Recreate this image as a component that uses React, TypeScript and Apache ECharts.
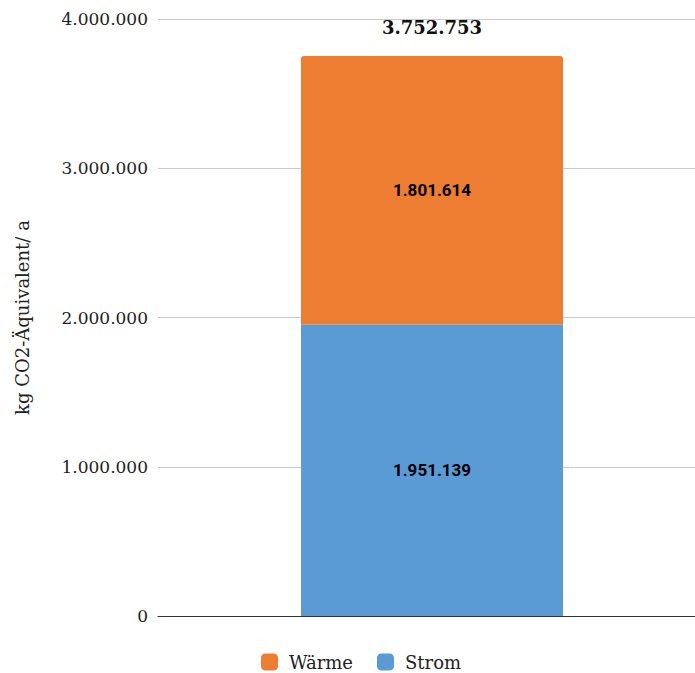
import React, { useEffect, useRef } from "react";
import * as echarts from "echarts";

const categories = ["Gesamt"];
const stromValues = [1951139];
const waermeValues = [1801614];
const yTicks = [0, 1000000, 2000000, 3000000, 4000000];

const fmt = (v: number) => String(Math.round(v)).replace(/\B(?=(\d{3})+(?!\d))/g, ".");

export default function App() {
  const ref = useRef<HTMLDivElement>(null);
  useEffect(() => {
    if (!ref.current) return;
    const chart = echarts.init(ref.current, null, { renderer: "svg" });
    const totals = stromValues.map((v, i) => v + waermeValues[i]);
    const serif = "DejaVu Serif";
    const yMin = yTicks[0];
    const yMax = yTicks[yTicks.length - 1];
    const barLabel = {
      show: true,
      position: "inside",
      formatter: (p: any) => fmt(p.value),
      fontFamily: "Roboto",
      fontWeight: "bold",
      fontSize: 17,
      color: "#000",
    };
    chart.setOption({
      animation: false,
      textStyle: { fontFamily: serif },
      grid: [
        { left: 158, right: 0, top: 19, bottom: 57, containLabel: false },
        { left: 169, right: 0, top: 19, bottom: 57, containLabel: false },
      ],
      legend: {
        data: ["Wärme", "Strom"],
        top: 653,
        left: 261,
        padding: 0,
        itemWidth: 17,
        itemHeight: 17,
        itemGap: 24,
        icon: "roundRect",
        textStyle: { fontFamily: serif, fontSize: 18, color: "#222", padding: [0, 0, 0, 6] },
      },
      xAxis: [
        {
          gridIndex: 0,
          type: "category",
          data: categories,
          axisLabel: { show: false },
          axisTick: { show: false },
          axisLine: { lineStyle: { color: "#333", width: 1 } },
        },
        {
          gridIndex: 1,
          type: "category",
          data: categories,
          show: false,
        },
      ],
      yAxis: [
        {
          gridIndex: 0,
          type: "value",
          min: yMin,
          max: yMax,
          interval: 1000000,
          name: "kg CO2-Äquivalent/ a",
          nameLocation: "middle",
          nameGap: 127,
          nameTextStyle: { fontFamily: serif, fontSize: 18, color: "#222" },
          axisLabel: { formatter: (v: number) => fmt(v), fontFamily: serif, fontSize: 17, color: "#222", margin: 10 },
          splitLine: { lineStyle: { color: "#c8c8c8", width: 1 } },
          axisLine: { show: false },
          axisTick: { show: false },
        },
        {
          gridIndex: 1,
          type: "value",
          min: yMin,
          max: yMax,
          interval: 1000000,
          show: false,
          splitLine: { show: false },
        },
      ],
      series: [
        {
          name: "Strom",
          type: "bar",
          stack: "s",
          xAxisIndex: 1,
          yAxisIndex: 1,
          data: stromValues,
          barWidth: 262,
          itemStyle: { color: "#5B9BD5" },
          label: barLabel,
        },
        {
          name: "Wärme",
          type: "bar",
          stack: "s",
          xAxisIndex: 1,
          yAxisIndex: 1,
          data: waermeValues,
          barWidth: 262,
          itemStyle: { color: "#ED7D31", borderRadius: [3, 3, 0, 0] },
          label: barLabel,
        },
        {
          name: "Summe",
          type: "bar",
          stack: "s",
          xAxisIndex: 1,
          yAxisIndex: 1,
          data: totals.map(() => 0),
          barWidth: 262,
          itemStyle: { color: "transparent" },
          label: {
            show: true,
            position: "top",
            distance: 19,
            formatter: (p: any) => fmt(totals[p.dataIndex]),
            fontFamily: serif,
            fontWeight: "bold",
            fontSize: 18,
            color: "#111",
          },
        },
      ],
    });
    return () => chart.dispose();
  }, []);
  return <div ref={ref} style={{ width: 695, height: 673, position: "absolute", left: 0, top: 0 }} />;
}
